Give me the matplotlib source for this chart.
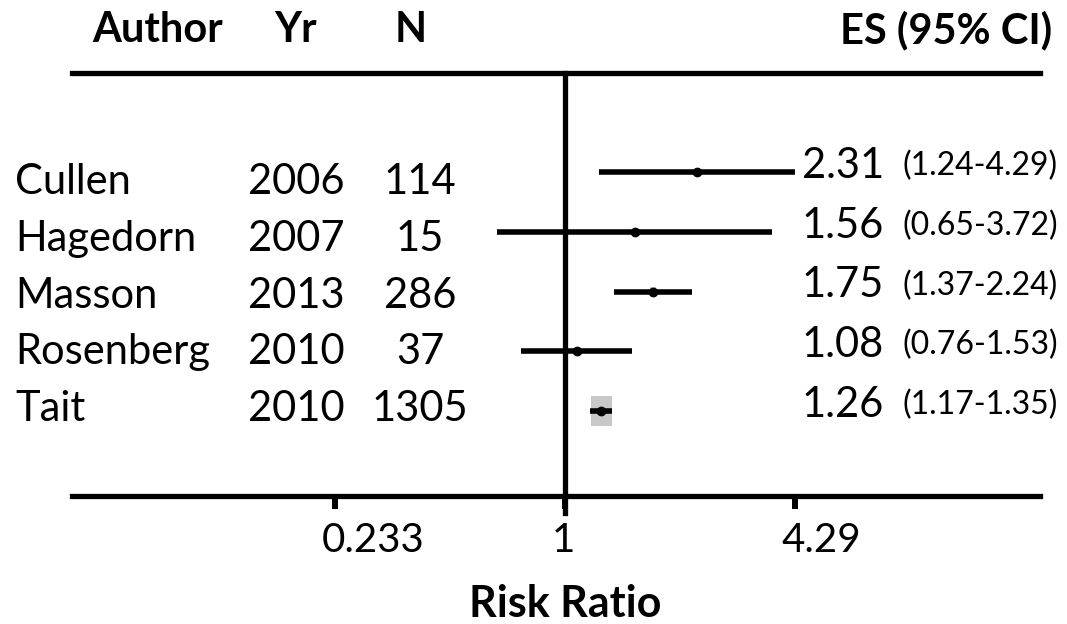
import matplotlib.pyplot as plt
import matplotlib.transforms as mtransforms
from matplotlib.patches import Rectangle
import numpy as np

plt.rcParams['font.family'] = ['Lato', 'DejaVu Sans']

# study data
authors = ['Cullen', 'Hagedorn', 'Masson', 'Rosenberg', 'Tait']
years = ['2006', '2007', '2013', '2010', '2010']
n_pts = ['114', '15', '286', '37', '1305']
es = [2.31, 1.56, 1.75, 1.08, 1.26]
lo = [1.24, 0.65, 1.37, 0.76, 1.17]
hi = [4.29, 3.72, 2.24, 1.53, 1.35]
tick_vals = [0.233, 1, 4.29]
tick_labels = ['0.233', '1', '4.29']

W, H = 1067, 624
fig = plt.figure(figsize=(W / 100, H / 100), dpi=100)

def fx(px):
    return px / W

def fy(py):
    return 1 - py / H

ax = fig.add_axes([fx(72), fy(496), fx(1040) - fx(72), fy(73) - fy(496)])
ax.set_xscale('log')
ax.set_xlim(0.0442, 20.25)

ypos = np.arange(len(authors))[::-1] + 1.0
ax.set_ylim(1 - 85 / 59.75, 5 + 99 / 59.75)

# inverse-variance weights for box sizes
se = (np.log(hi) - np.log(lo)) / 3.92
w = 1 / se**2
scale = np.sqrt(w / w.max())
for yi, e, s in zip(ypos, es, scale):
    hw = 0.067 * s
    hh = 0.243 * s
    ax.add_patch(Rectangle((e * np.exp(-hw), yi - hh), e * np.exp(hw) - e * np.exp(-hw), 2 * hh,
                           facecolor='#c8c8c8', edgecolor='none', zorder=1))

ax.hlines(ypos, lo, hi, color='black', lw=4.0, zorder=3)
ax.plot(es, ypos, 'o', color='black', ms=6, zorder=4)

# line of no effect
y0, y1 = ax.get_ylim()
ax.plot([1, 1], [y0 - 0.29, y1], color='black', lw=3.8, clip_on=False, zorder=5)

for side in ['left', 'right']:
    ax.spines[side].set_visible(False)
for side in ['top', 'bottom']:
    ax.spines[side].set_linewidth(3.8)
ax.set_yticks([])
ax.set_xticks(tick_vals)
ax.set_xticklabels(tick_labels)
ax.minorticks_off()
ax.tick_params(axis='x', length=9, width=4.3, pad=10, labelsize=29)
shift = mtransforms.ScaledTranslation(-13 / 100, 0, fig.dpi_scale_trans)
for lbl in ax.get_xticklabels():
    lbl.set_horizontalalignment('left')
    lbl.set_transform(lbl.get_transform() + shift)

# headers
hdr = dict(va='center', fontsize=30, fontweight='bold')
fig.text(fx(158), fy(30), 'Author', ha='center', **hdr)
fig.text(fx(296), fy(30), 'Yr', ha='center', **hdr)
fig.text(fx(411), fy(30), 'N', ha='center', **hdr)
fig.text(fx(1052), fy(30), 'ES (95% CI)', ha='right', **hdr)

# left table
for i, (a, yr, n) in enumerate(zip(authors, years, n_pts)):
    yy = fy(182 + i * 56.8)
    fig.text(fx(15), yy, a, ha='left', va='center', fontsize=30)
    fig.text(fx(248), yy, yr, ha='left', va='center', fontsize=30)
    fig.text(fx(420), yy, n, ha='center', va='center', fontsize=30)

# effect sizes on the right
blend = mtransforms.blended_transform_factory(fig.transFigure, ax.transData)
tr = mtransforms.offset_copy(blend, fig=fig, y=6, units='dots')
for yi, e, l, h in zip(ypos, es, lo, hi):
    ax.text(fx(802), yi, f'{e:.2f}', transform=tr, ha='left', va='center', fontsize=30, clip_on=False)
    ax.text(fx(1058), yi, f'({l:.2f}-{h:.2f})', transform=tr, ha='right', va='center', fontsize=23, clip_on=False)

fig.text(fx(565), fy(604), 'Risk Ratio', ha='center', va='center', fontsize=31, fontweight='bold')

fig.savefig('out.png', dpi=100)
